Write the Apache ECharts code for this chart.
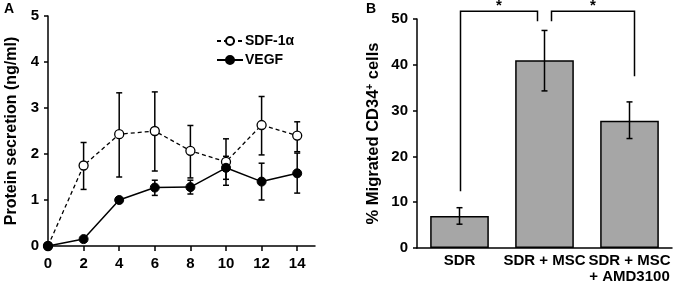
<!DOCTYPE html>
<html><head><meta charset="utf-8">
<script src="https://cdn.jsdelivr.net/npm/echarts@6/dist/echarts.min.js"></script>
<style>html,body{margin:0;padding:0;background:#fff}#c{width:680px;height:281px}</style>
</head><body><div id="c"></div>
<script>
// Panel A data
const days = [0, 2, 4, 6, 8, 10, 12, 14];
const sdfMean = [0, 1.75, 2.43, 2.5, 2.07, 1.83, 2.63, 2.4];
const sdfLow  = [0, 1.23, 1.5, 1.63, 1.48, 1.32, 1.98, 2.05];
const sdfHigh = [0, 2.25, 3.33, 3.35, 2.62, 2.33, 3.25, 2.7];
const vegfMean = [0, 0.15, 1.0, 1.27, 1.28, 1.7, 1.4, 1.58];
const vegfLow  = [0, 0.15, 1.0, 1.1, 1.13, 1.45, 1.0, 1.15];
const vegfHigh = [0, 0.15, 1.0, 1.43, 1.43, 1.95, 1.8, 2.02];
const xTicksA = [0, 2, 4, 6, 8, 10, 12, 14];
// Panel B data
const groups = ['SDR', 'SDR + MSC', 'SDR + MSC\n+ AMD3100'];
const migrated = [7, 41, 27.8];
const migLow = [5.2, 34.3, 23.9];
const migHigh = [8.8, 47.5, 31.9];
// significance brackets: [fromCat, fromY, topY, toCat, toY]
const brackets = [[0, 12.4, 51.7, 1, 49.5], [1, 49.5, 51.7, 2, 37.5]];
const bracketShift = [[1, -7], [7, 5]]; // pixel nudges of bracket ends

const FONT = 'Arial, "Liberation Sans", sans-serif';
const chart = echarts.init(document.getElementById('c'), null, {renderer: 'canvas'});

function errItem(params, api) {
  const x = api.value(0);
  const top = api.coord([x, api.value(2)]);
  const bot = api.coord([x, api.value(1)]);
  if (Math.abs(top[1] - bot[1]) < 0.5) return null;
  const w = 3;
  const st = {stroke: '#000', lineWidth: 1.5};
  return {type: 'group', children: [
    {type: 'line', shape: {x1: top[0], y1: top[1], x2: bot[0], y2: bot[1]}, style: st},
    {type: 'line', shape: {x1: top[0] - w, y1: top[1], x2: top[0] + w, y2: top[1]}, style: st},
    {type: 'line', shape: {x1: bot[0] - w, y1: bot[1], x2: bot[0] + w, y2: bot[1]}, style: st}
  ]};
}

function bracketItem(params, api) {
  const sh = bracketShift[params.dataIndex];
  const p1 = api.coord([api.value(0), api.value(1)]);
  const p2 = api.coord([api.value(0), api.value(2)]);
  const p3 = api.coord([api.value(3), api.value(2)]);
  const p4 = api.coord([api.value(3), api.value(4)]);
  p1[0] += sh[0]; p2[0] += sh[0]; p3[0] += sh[1]; p4[0] += sh[1];
  return {type: 'group', children: [
    {type: 'polyline', shape: {points: [p1, p2, p3, p4]}, style: {stroke: '#000', lineWidth: 1.5, fill: null}},
    {type: 'text', x: (p2[0] + p3[0]) / 2, y: p2[1] - 5,
     style: {text: '*', fill: '#000', font: 'bold 15px ' + FONT, textAlign: 'center', textVerticalAlign: 'middle'}}
  ]};
}

const tickFont = {color: '#000', fontWeight: 'bold', fontSize: 15, fontFamily: FONT};
const axisLineStyle = {show: true, lineStyle: {color: '#000', width: 1.5}};
const nameFont = {color: '#000', fontWeight: 'bold', fontSize: 16, fontFamily: FONT};

chart.setOption({
  animation: false,
  graphic: [
    {type: 'text', left: 4, top: 2, style: {text: 'A', font: 'bold 14px ' + FONT, fill: '#000'}},
    {type: 'text', left: 366, top: 2, style: {text: 'B', font: 'bold 14px ' + FONT, fill: '#000'}}
  ],
  legend: {
    left: 211, top: 29, orient: 'vertical', itemGap: 5, itemWidth: 26, itemHeight: 10,
    data: ['SDF-1α', 'VEGF'],
    textStyle: {color: '#000', fontWeight: 'bold', fontSize: 14, fontFamily: FONT, padding: [0, 0, 0, -3]}
  },
  grid: [
    {left: 48, top: 16, width: 267, height: 230, containLabel: false, outerBoundsMode: 'none'},
    {left: 417, top: 19, width: 255, height: 229, containLabel: false, outerBoundsMode: 'none'}
  ],
  xAxis: [
    {gridIndex: 0, type: 'value', min: 0, max: 15, interval: 2,
     axisLine: axisLineStyle, splitLine: {show: false},
     axisTick: {show: true, length: 5, lineStyle: {color: '#000', width: 1.5}, customValues: xTicksA},
     axisLabel: Object.assign({margin: 10, customValues: xTicksA}, tickFont)},
    {gridIndex: 1, type: 'category', data: groups,
     axisLine: axisLineStyle, axisTick: {show: false},
     axisLabel: Object.assign({margin: 5, lineHeight: 16, interval: 0}, tickFont)}
  ],
  yAxis: [
    {gridIndex: 0, type: 'value', min: 0, max: 5, interval: 1,
     axisLine: axisLineStyle, splitLine: {show: false},
     axisTick: {show: true, length: 4, lineStyle: {color: '#000', width: 1.5}},
     axisLabel: Object.assign({margin: 9}, tickFont),
     name: 'Protein secretion (ng/ml)', nameLocation: 'middle', nameGap: 28,
     nameTextStyle: nameFont},
    {gridIndex: 1, type: 'value', min: 0, max: 50, interval: 10,
     axisLine: axisLineStyle, splitLine: {show: false},
     axisTick: {show: true, length: 4, lineStyle: {color: '#000', width: 1.5}},
     axisLabel: Object.assign({margin: 9}, tickFont),
     name: '{n|% Migrated CD34}{s|+}{n| cells}', nameLocation: 'middle', nameGap: 35,
     nameTextStyle: Object.assign({
       rich: {n: {fontWeight: 'bold', fontSize: 16.5, fontFamily: FONT, color: '#000'},
              s: {fontWeight: 'bold', fontSize: 10, fontFamily: FONT, color: '#000', verticalAlign: 'top', padding: [0, 0, 6, 0]}}}, nameFont)}
  ],
  series: [
    {type: 'custom', xAxisIndex: 0, yAxisIndex: 0, renderItem: errItem, clip: false, z: 1,
     data: days.map((d, i) => [d, sdfLow[i], sdfHigh[i]])},
    {type: 'custom', xAxisIndex: 0, yAxisIndex: 0, renderItem: errItem, clip: false, z: 1,
     data: days.map((d, i) => [d, vegfLow[i], vegfHigh[i]])},
    {name: 'SDF-1α', type: 'line', xAxisIndex: 0, yAxisIndex: 0, z: 3,
     data: days.map((d, i) => [d, sdfMean[i]]),
     symbol: 'circle', symbolSize: 9, showAllSymbol: true,
     lineStyle: {color: '#000', width: 1.3, type: [4, 3]},
     itemStyle: {color: '#fff', borderColor: '#000', borderWidth: 1.3}},
    {name: 'VEGF', type: 'line', xAxisIndex: 0, yAxisIndex: 0, z: 4,
     data: days.map((d, i) => [d, vegfMean[i]]),
     symbol: 'circle', symbolSize: 9, showAllSymbol: true,
     lineStyle: {color: '#000', width: 1.5},
     itemStyle: {color: '#000', borderColor: '#000', borderWidth: 1}},
    {type: 'bar', xAxisIndex: 1, yAxisIndex: 1, data: migrated, barCategoryGap: '31%',
     itemStyle: {color: '#a6a6a6', borderColor: '#000', borderWidth: 1.5}},
    {type: 'custom', xAxisIndex: 1, yAxisIndex: 1, renderItem: errItem, clip: false, z: 5,
     data: groups.map((g, i) => [i, migLow[i], migHigh[i]])},
    {type: 'custom', xAxisIndex: 1, yAxisIndex: 1, renderItem: bracketItem, clip: false, z: 5,
     data: brackets}
  ]
});
</script></body></html>
